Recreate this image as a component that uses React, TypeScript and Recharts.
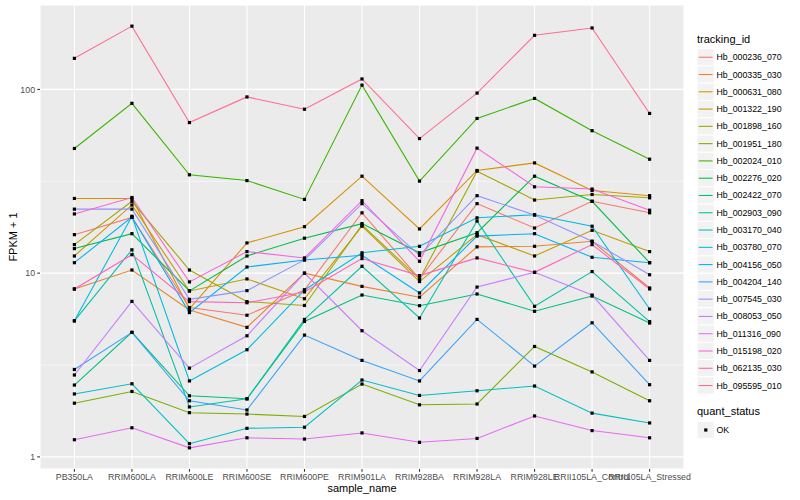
import React from 'react';
import { LineChart, Line, XAxis, YAxis, CartesianGrid, ReferenceLine } from 'recharts';

const categories = [
  'PB350LA', 'RRIM600LA', 'RRIM600LE', 'RRIM600SE', 'RRIM600PE', 'RRIM901LA',
  'RRIM928BA', 'RRIM928LA', 'RRIM928LE', 'RRII105LA_Control', 'RRII105LA_Stressed',
];

const seriesNames = [
  'Hb_000236_070', 'Hb_000335_030', 'Hb_000631_080', 'Hb_001322_190', 'Hb_001898_160',
  'Hb_001951_180', 'Hb_002024_010', 'Hb_002276_020', 'Hb_002422_070', 'Hb_002903_090',
  'Hb_003170_040', 'Hb_003780_070', 'Hb_004156_050', 'Hb_004204_140', 'Hb_007545_030',
  'Hb_008053_050', 'Hb_011316_090', 'Hb_015198_020', 'Hb_062135_030', 'Hb_095595_010',
];

const seriesColors = [
  '#F8766D', '#EA8331', '#D89000', '#C09B00', '#A3A500',
  '#7CAE00', '#39B600', '#00BB4E', '#00BF7D', '#00C1A3',
  '#00BFC4', '#00BAE0', '#00B0F6', '#35A2FF', '#9590FF',
  '#C77CFF', '#E76BF3', '#FA62DB', '#FF62BC', '#FF6C91',
];

// FPKM + 1 values, one array per tracking_id, in category order
const hb000236 = [16.2, 20.1, 6.5, 5.9, 8.1, 21.3, 9.3, 23.9, 17.6, 24.6, 21.3];
const hb000335 = [8.2, 10.4, 6.3, 5.07, 10.0, 8.47, 7.4, 13.9, 14.0, 14.9, 8.3];
const hb000631 = [25.5, 25.5, 6.4, 14.6, 17.9, 33.7, 17.4, 36.2, 39.8, 28.2, 26.4];
const hb001322 = [12.4, 23.5, 8.0, 9.3, 7.26, 18.0, 9.0, 16.2, 12.4, 17.1, 13.1];
const hb001898 = [14.3, 24.6, 10.4, 7.0, 6.67, 18.3, 9.3, 35.9, 25.0, 26.8, 25.7];
const hb001951 = [1.96, 2.27, 1.74, 1.71, 1.66, 2.49, 1.92, 1.94, 3.99, 2.9, 2.02];
const hb002024 = [47.7, 84, 34.3, 31.9, 25.2, 105.5, 31.7, 69.5, 89.3, 59.6, 41.7];
const hb002276 = [13.6, 16.4, 8.0, 12.4, 15.5, 18.6, 12.9, 16.6, 33.7, 24.6, 11.4];
const hb002422 = [2.46, 4.76, 2.15, 2.07, 5.46, 7.6, 6.65, 7.7, 6.2, 7.5, 5.35];
const hb002903 = [5.5, 13.4, 1.87, 2.07, 5.6, 10.9, 5.7, 19.2, 6.6, 10.2, 5.45];
const hb003170 = [2.2, 2.5, 1.18, 1.43, 1.45, 2.62, 2.16, 2.29, 2.43, 1.73, 1.53];
const hb003780 = [5.5, 20.4, 2.59, 3.83, 8.1, 12.9, 14.0, 20.0, 20.8, 18.0, 6.38];
const hb004156 = [11.4, 20.2, 6.1, 10.8, 11.8, 12.5, 7.8, 15.9, 16.4, 12.2, 11.4];
const hb004204 = [2.99, 4.76, 2.02, 1.8, 4.6, 3.35, 2.59, 5.6, 3.12, 5.37, 2.47];
const hb007545 = [22.3, 22.3, 7.2, 8.03, 11.8, 23.9, 12.5, 26.4, 20.7, 14.9, 9.8];
const hb008053 = [2.79, 7.02, 3.04, 4.56, 10.0, 4.86, 2.95, 8.4, 10.1, 7.6, 3.35];
const hb011316 = [1.24, 1.44, 1.12, 1.27, 1.25, 1.35, 1.2, 1.26, 1.67, 1.39, 1.27];
const hb015198 = [21.0, 25.8, 8.96, 13.1, 12.1, 24.8, 11.6, 47.9, 29.5, 28.7, 22.0];
const hb062135 = [8.2, 12.6, 7.0, 6.9, 7.9, 12.0, 9.7, 12.1, 10.1, 14.3, 8.2];
const hb095595 = [147.6, 221, 66, 91, 78, 114, 54, 95.5, 197, 216, 74];

const seriesValues = [
  hb000236, hb000335, hb000631, hb001322, hb001898,
  hb001951, hb002024, hb002276, hb002422, hb002903,
  hb003170, hb003780, hb004156, hb004204, hb007545,
  hb008053, hb011316, hb015198, hb062135, hb095595,
];

const yTicks = [1, 10, 100];
const yMinorBreaks = [3.1623, 31.623];
const yDomain = [0.859, 288];

const data = categories.map((c, i) => {
  const row: Record<string, any> = { sample: c };
  seriesNames.forEach((n, k) => {
    row[n] = seriesValues[k][i];
  });
  return row;
});

const FONT = '"Liberation Sans", Arial, Helvetica, sans-serif';

const SquareDot = (props: any) => {
  const { cx, cy, index, dataKey } = props;
  if (cx == null || cy == null) return <g key={`${dataKey}-${index}`} />;
  return <rect key={`${dataKey}-${index}`} x={cx - 1.6} y={cy - 1.6} width={3.2} height={3.2} fill="#000" />;
};

export default function App() {
  const keyTop = 48.6;
  const keyH = 17.28;
  return (
    <div style={{ position: 'absolute', left: 0, top: 0, width: 800, height: 500, background: '#fff', fontFamily: FONT }}>
      <LineChart width={800} height={500} data={data} margin={{ top: 5, right: 116, bottom: 0, left: 0 }}>
        <CartesianGrid stroke="#FFFFFF" strokeWidth={1.07} fill="#EBEBEB" fillOpacity={1} />
        <XAxis
          dataKey="sample"
          interval={0}
          padding={{ left: 34.4, right: 34.4 }}
          axisLine={false}
          tickSize={2.75}
          tickMargin={2.2}
          tickLine={{ stroke: '#333333', strokeWidth: 1.07 }}
          tick={{ fill: '#4D4D4D', fontSize: 8.8, fontFamily: FONT }}
          height={31}
        />
        <YAxis
          scale="log"
          domain={yDomain}
          ticks={yTicks}
          allowDataOverflow
          axisLine={false}
          tickSize={2.75}
          tickMargin={2.2}
          tickLine={{ stroke: '#333333', strokeWidth: 1.07 }}
          tick={{ fill: '#4D4D4D', fontSize: 8.8, fontFamily: FONT }}
          tickFormatter={(v: number) => String(v)}
          width={40}
        />
        {yMinorBreaks.map((v) => (
          <ReferenceLine key={`minor-${v}`} y={v} stroke="#FFFFFF" strokeWidth={0.53} />
        ))}
        {seriesNames.map((n, k) => (
          <Line
            key={`l-${n}`}
            type="linear"
            dataKey={n}
            stroke={seriesColors[k]}
            strokeWidth={1.07}
            dot={false}
            activeDot={false}
            isAnimationActive={false}
          />
        ))}
        {seriesNames.map((n) => (
          <Line
            key={`p-${n}`}
            type="linear"
            dataKey={n}
            stroke="none"
            strokeOpacity={0}
            dot={SquareDot}
            activeDot={false}
            legendType="none"
            isAnimationActive={false}
          />
        ))}
      </LineChart>
      <svg width={800} height={500} style={{ position: 'absolute', left: 0, top: 0, pointerEvents: 'none' }} fontFamily={FONT}>
        <text transform="translate(13,237) rotate(-90)" textAnchor="middle" dominantBaseline="central" fontSize={11} fill="#000">
          FPKM + 1
        </text>
        <text x={362} y={488} textAnchor="middle" dominantBaseline="central" fontSize={11} fill="#000">
          sample_name
        </text>
        <text x={697} y={39} dominantBaseline="central" fontSize={11} fill="#000">
          tracking_id
        </text>
        {seriesNames.map((n, k) => {
          const y = keyTop + k * keyH;
          return (
            <g key={`lg-${n}`}>
              <rect x={697} y={y} width={17.28} height={keyH} fill="#F2F2F2" stroke="#FFFFFF" strokeWidth={1} />
              <line x1={698.7} x2={712.6} y1={y + keyH / 2} y2={y + keyH / 2} stroke={seriesColors[k]} strokeWidth={1.07} />
              <text x={716.5} y={y + keyH / 2} dominantBaseline="central" fontSize={8.8} fill="#000">
                {n}
              </text>
            </g>
          );
        })}
        <text x={697} y={411} dominantBaseline="central" fontSize={11} fill="#000">
          quant_status
        </text>
        <rect x={697} y={421.4} width={17.28} height={keyH} fill="#F2F2F2" stroke="#FFFFFF" strokeWidth={1} />
        <rect x={704.2} y={428.4} width={3.2} height={3.2} fill="#000" />
        <text x={716.5} y={430} dominantBaseline="central" fontSize={8.8} fill="#000">
          OK
        </text>
      </svg>
    </div>
  );
}
